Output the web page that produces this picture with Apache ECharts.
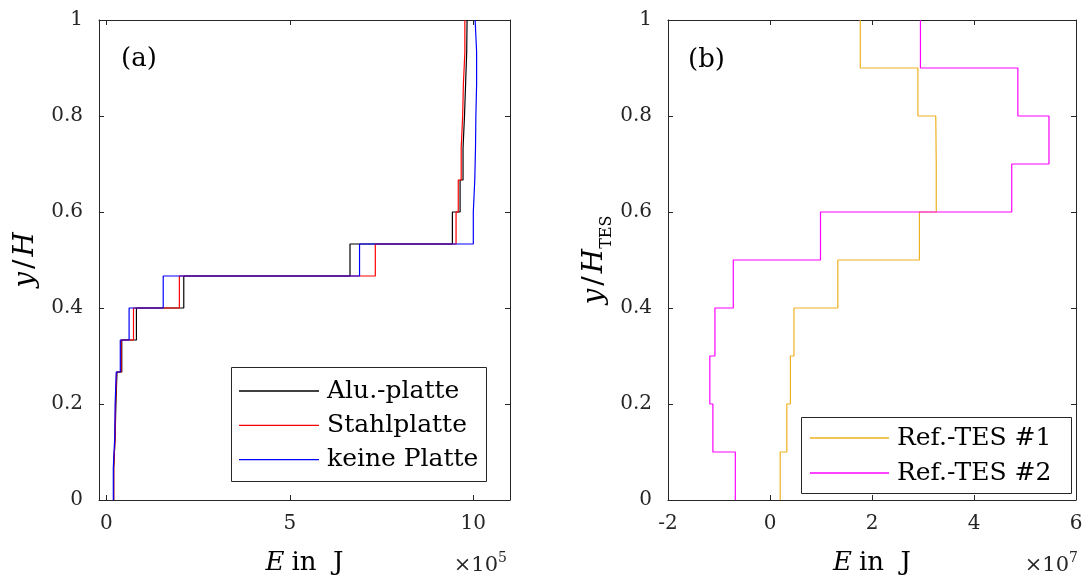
<!DOCTYPE html>
<html><head><meta charset="utf-8">
<script src="https://cdn.jsdelivr.net/npm/echarts@6/dist/echarts.min.js"></script>
<style>html,body{margin:0;padding:0;background:#fff}#c{width:1088px;height:581px}</style>
</head><body><div id="c"></div>
<script>
// ---------- data ----------
// Panel (a): 15 layers, E in units of 1e5 J
const layerEdgesA = [0, 0.0667, 0.1333, 0.2, 0.2667, 0.3333, 0.4, 0.4667, 0.5333, 0.6, 0.6667, 0.7333, 0.8, 0.8667, 0.9333, 1];
const aluPlatte   = [0.20, 0.24, 0.26, 0.29, 0.42, 0.82, 2.11, 6.64, 9.43, 9.64, 9.72, 9.76, 9.79, 9.82, 9.83];
const stahlPlatte = [0.20, 0.24, 0.25, 0.28, 0.40, 0.74, 1.99, 7.33, 9.53, 9.59, 9.67, 9.71, 9.73, 9.77, 9.77];
const keinePlatte = [0.19, 0.23, 0.24, 0.27, 0.38, 0.62, 1.55, 6.90, 10.00, 10.04, 10.06, 10.07, 10.09, 10.09, 10.05];
const namesA = ['Alu.-platte', 'Stahlplatte', 'keine Platte'];
const xTicksA = [0, 5, 10];
// Panel (b): 10 layers, E in units of 1e7 J
const layerEdgesB = [0, 0.1, 0.2, 0.3, 0.4, 0.5, 0.6, 0.7, 0.8, 0.9, 1];
const refTes1 = [0.20, 0.33, 0.40, 0.47, 1.33, 2.93, 3.26, 3.25, 2.90, 1.77];
const refTes2 = [-0.68, -1.12, -1.18, -1.08, -0.72, 0.99, 4.74, 5.47, 4.86, 2.95];
const namesB = ['Ref.-TES #1', 'Ref.-TES #2'];

// ---------- helpers ----------
function steps(vals, edges) {
  const pts = [];
  vals.forEach((v, i) => { pts.push([v, edges[i]]); pts.push([v, edges[i + 1]]); });
  return pts;
}
const AX = '#262626';
const SERIF = "'DejaVu Serif', 'Liberation Serif', serif";
const tickFont = { fontFamily: SERIF, fontSize: 20, color: AX };
function xAx(grid, pos, min, max, ticks, showLabel, name) {
  return {
    type: 'value', gridIndex: grid, position: pos, min: min, max: max,
    axisLine: { onZero: false, lineStyle: { color: AX, width: 1 } },
    axisTick: { inside: true, length: 5, customValues: ticks, lineStyle: { color: AX } },
    axisLabel: Object.assign({ show: showLabel, customValues: ticks, margin: 14 }, tickFont),
    splitLine: { show: false },
    name: name || '', nameLocation: 'middle', nameGap: 50,
    nameTextStyle: {
      fontFamily: SERIF, fontSize: 26, color: '#000',
      rich: { i: { fontFamily: SERIF, fontStyle: 'italic', fontSize: 26, color: '#000', padding: [0, 7, 0, 0] },
              n: { fontFamily: SERIF, fontSize: 26, color: '#000' } }
    }
  };
}
function yAx(grid, pos, showLabel, name) {
  return {
    type: 'value', gridIndex: grid, position: pos, min: 0, max: 1, interval: 0.2,
    axisLine: { onZero: false, lineStyle: { color: AX, width: 1 } },
    axisTick: { inside: true, length: 5, lineStyle: { color: AX } },
    axisLabel: Object.assign({ show: showLabel, margin: 16 }, tickFont),
    splitLine: { show: false },
    name: name || '', nameLocation: 'middle', nameGap: 53, nameRotate: 90,
    nameTextStyle: {
      rich: {
        i: { fontFamily: SERIF, fontStyle: 'italic', fontSize: 28, color: '#000', lineHeight: 40, verticalAlign: 'middle' },
        n: { fontFamily: SERIF, fontSize: 28, color: '#000', lineHeight: 40, verticalAlign: 'middle', padding: [0, 3, 0, 3] },
        s: { fontFamily: SERIF, fontSize: 16, color: '#000', lineHeight: 16, verticalAlign: 'bottom' }
      }
    }
  };
}
function line(name, data, xi, yi, color) {
  return { type: 'line', name: name, data: data, xAxisIndex: xi, yAxisIndex: yi,
    symbol: 'none', lineStyle: { color: color, width: 1.2 }, itemStyle: { color: color }, z: 2, animation: false };
}
const legendText = { fontFamily: SERIF, fontSize: 25, color: '#000', lineHeight: 28, padding: [0, 0, 0, 3] };
const supRich = {
  m: { fontFamily: SERIF, fontSize: 21, fill: AX, lineHeight: 30, verticalAlign: 'middle' },
  p: { fontFamily: SERIF, fontSize: 14, fill: AX, lineHeight: 14, verticalAlign: 'top' }
};

const option = {
  backgroundColor: '#fff',
  animation: false,
  grid: [
    { left: 99, top: 20, width: 411, height: 485 },
    { left: 668, top: 20, width: 408, height: 485 }
  ],
  xAxis: [
    xAx(0, 'bottom', -0.2, 11, xTicksA, true, '{i|E}{n|in  J}'),
    xAx(0, 'top', -0.2, 11, xTicksA, false),
    Object.assign(xAx(1, 'bottom', -2, 6, null, true, '{i|E}{n|in  J}'), { interval: 2 }),
    Object.assign(xAx(1, 'top', -2, 6, null, false), { interval: 2 })
  ],
  yAxis: [
    yAx(0, 'left', true, '{i|y}{n|/}{i|H}'),
    yAx(0, 'right', false),
    yAx(1, 'left', true, '{i|y}{n|/}{i|H}{s|TES}'),
    yAx(1, 'right', false)
  ],
  legend: [
    { data: namesA.map(n => ({ name: n, icon: 'rect' })), orient: 'vertical', left: 239, top: 377, padding: 0, itemGap: 6.3,
      itemWidth: 80, itemHeight: 1.3, textStyle: legendText, z: 6, selectedMode: false },
    { data: namesB.map(n => ({ name: n, icon: 'rect' })), orient: 'vertical', left: 810, top: 424, padding: 0, itemGap: 7,
      itemWidth: 79, itemHeight: 1.3, textStyle: legendText, z: 6, selectedMode: false }
  ],
  graphic: [
    { type: 'rect', shape: { x: 231.5, y: 367.5, width: 255, height: 114 }, style: { fill: '#fff', stroke: AX, lineWidth: 1 }, z: 5 },
    { type: 'rect', shape: { x: 801.5, y: 417.5, width: 270, height: 76 }, style: { fill: '#fff', stroke: AX, lineWidth: 1 }, z: 5 },
    { type: 'text', x: 121, y: 59, style: { text: '(a)', fontFamily: SERIF, fontSize: 26, fill: '#000', verticalAlign: 'middle' }, z: 6 },
    { type: 'text', x: 688, y: 60, style: { text: '(b)', fontFamily: SERIF, fontSize: 26, fill: '#000', verticalAlign: 'middle' }, z: 6 },
    { type: 'text', x: 507, y: 566, z: 6, style: { text: '{m|×10}{p|5}', align: 'right', verticalAlign: 'middle', rich: supRich } },
    { type: 'text', x: 1078, y: 566, z: 6, style: { text: '{m|×10}{p|7}', align: 'right', verticalAlign: 'middle', rich: supRich } }
  ],
  series: [
    line(namesA[0], steps(aluPlatte, layerEdgesA), 0, 0, '#000000'),
    line(namesA[1], steps(stahlPlatte, layerEdgesA), 0, 0, '#ff0000'),
    line(namesA[2], steps(keinePlatte, layerEdgesA), 0, 0, '#0000ff'),
    line(namesB[0], steps(refTes1, layerEdgesB), 2, 2, '#EDB120'),
    line(namesB[1], steps(refTes2, layerEdgesB), 2, 2, '#ff00ff')
  ]
};
const chart = echarts.init(document.getElementById('c'), null, { renderer: 'canvas' });
chart.setOption(option);
</script></body></html>
